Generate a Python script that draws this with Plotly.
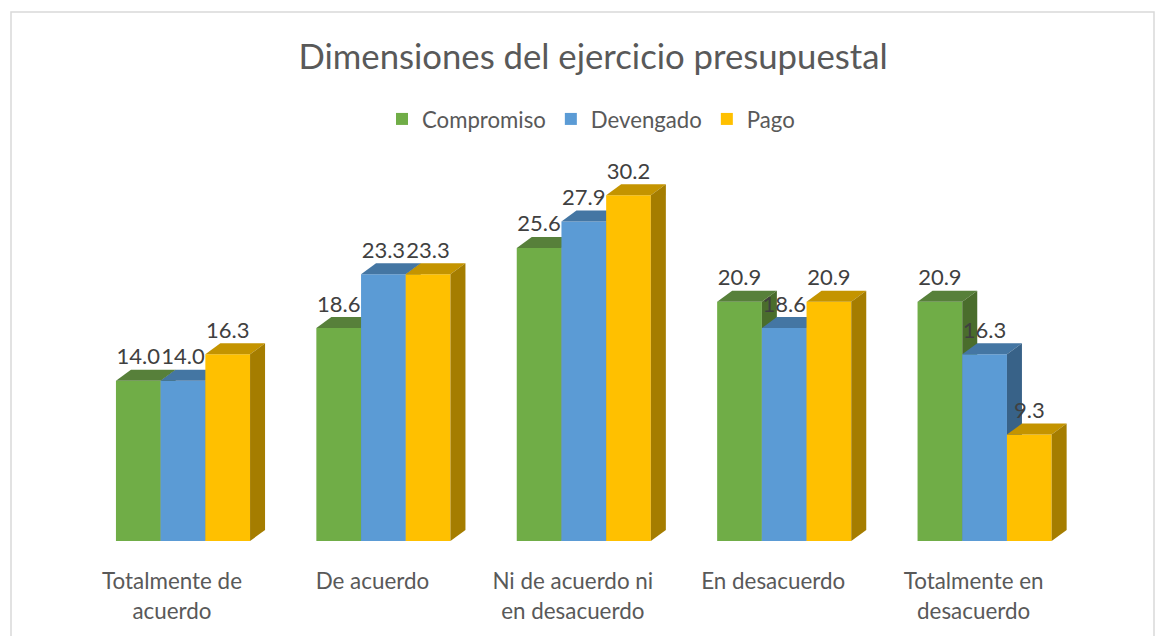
"""
Dimensiones del ejercicio presupuestal
======================================

Grouped bars with a drawn 3D look (Excel style).
"""

import plotly.graph_objects as go

#%%
# Data
# ----

series_names = ["Compromiso", "Devengado", "Pago"]
compromiso = [14.0, 18.6, 25.6, 20.9, 20.9]
devengado = [14.0, 23.3, 27.9, 18.6, 16.3]
pago = [16.3, 23.3, 30.2, 20.9, 9.3]
tick_labels = ["Totalmente de<br>acuerdo", "De acuerdo",
               "Ni de acuerdo ni<br>en desacuerdo",
               "En desacuerdo", "Totalmente en<br>desacuerdo"]

#%%
# Styles
# ------

front_colors = ["#70AD47", "#5B9BD5", "#FFC000"]
top_colors = ["#57803A", "#4476A3", "#C49400"]
side_colors = ["#4A6D2C", "#386288", "#A57D00"]
font_family = "Lato"
text_color = "#595959"
label_color = "#404040"

width = 1164
height = 636
baseline_px = 541
px_per_unit_y = 11.45
px_per_cat = 200.4
first_tick_px = 172.0
group_offset = 11.0 / px_per_cat
bar_width = 44.7 / px_per_cat
depth_x = 15.0 / px_per_cat
depth_y = 11.0 / px_per_unit_y

x_range = [-first_tick_px / px_per_cat, (width - first_tick_px) / px_per_cat]
y_range = [0, baseline_px / px_per_unit_y]

#%%
# Build figure, one overlaid subplot per series so that each series
# hides the sides of the one on its left
# -----------------------------------------------------------------

fig = go.Figure()
all_values = [compromiso, devengado, pago]
positions = []
for s, values in enumerate(all_values):
    suffix = "" if s == 0 else str(s + 1)
    xaxis = "x" + suffix
    yaxis = "y" + suffix
    x_pos = [i + group_offset + (s - 1) * bar_width for i in range(len(values))]
    positions.append(x_pos)

    fig.add_trace(go.Bar(x=x_pos, y=values, width=bar_width,
                         name=series_names[s],
                         marker_color=front_colors[s],
                         marker_line_width=0,
                         xaxis=xaxis, yaxis=yaxis))

    for x, v in zip(x_pos, values):
        left = x - bar_width / 2
        right = x + bar_width / 2
        fig.add_trace(go.Scatter(x=[left, right, right + depth_x,
                                    left + depth_x, left],
                                 y=[v, v, v + depth_y, v + depth_y, v],
                                 mode="lines", fill="toself",
                                 fillcolor=top_colors[s], line_width=0,
                                 showlegend=False, hoverinfo="skip",
                                 xaxis=xaxis, yaxis=yaxis))
        fig.add_trace(go.Scatter(x=[right, right + depth_x, right + depth_x,
                                    right, right],
                                 y=[0, depth_y, v + depth_y, v, 0],
                                 mode="lines", fill="toself",
                                 fillcolor=side_colors[s], line_width=0,
                                 showlegend=False, hoverinfo="skip",
                                 xaxis=xaxis, yaxis=yaxis))

# data labels go on the last subplot so they stay above all the bars
for s, values in enumerate(all_values):
    fig.add_trace(go.Scatter(x=positions[s],
                             y=[v + depth_y for v in values],
                             text=[f"{v:.1f}" for v in values],
                             mode="text", textposition="top center",
                             textfont=dict(family=font_family, size=22,
                                           color=label_color),
                             showlegend=False, hoverinfo="skip",
                             xaxis="x3", yaxis="y3"))

#%%
# Layout
# ------

base_x = dict(range=x_range, showgrid=False, zeroline=False, showline=False,
              showticklabels=False, ticks="")
base_y = dict(range=y_range, visible=False, showgrid=False, zeroline=False)

fig.update_layout(
    width=width, height=height, autosize=False,
    margin=dict(l=0, r=0, t=0, b=height - baseline_px, pad=0),
    paper_bgcolor="white", plot_bgcolor="white",
    showlegend=True,
    title=dict(text="Dimensiones del ejercicio presupuestal",
               x=593 / width, xanchor="center",
               y=1 - 57 / height, yanchor="middle",
               font=dict(family=font_family, size=34.7, color=text_color)),
    legend=dict(orientation="h", x=382 / width, xanchor="left",
                y=1 - 119 / baseline_px, yanchor="middle",
                bgcolor="rgba(0,0,0,0)",
                font=dict(family=font_family, size=22.2, color=text_color)),
    xaxis=dict(base_x, showticklabels=True, tickmode="array",
               tickvals=list(range(len(tick_labels))), ticktext=tick_labels,
               ticklabelstandoff=25,
               tickfont=dict(family=font_family, size=22.4, color=text_color)),
    xaxis2=dict(base_x, overlaying="x"),
    xaxis3=dict(base_x, overlaying="x"),
    yaxis=dict(base_y),
    yaxis2=dict(base_y, overlaying="y"),
    yaxis3=dict(base_y, overlaying="y"),
    shapes=[dict(type="rect", xref="paper", yref="paper",
                 x0=11 / width, x1=1154 / width,
                 y0=-0.3, y1=1 - 12 / baseline_px,
                 line=dict(color="#D9D9D9", width=1.5),
                 fillcolor="rgba(0,0,0,0)", layer="below")],
)

fig.write_html("out.html", config=dict(displayModeBar=False),
               post_script="document.body.style.margin='0';")
